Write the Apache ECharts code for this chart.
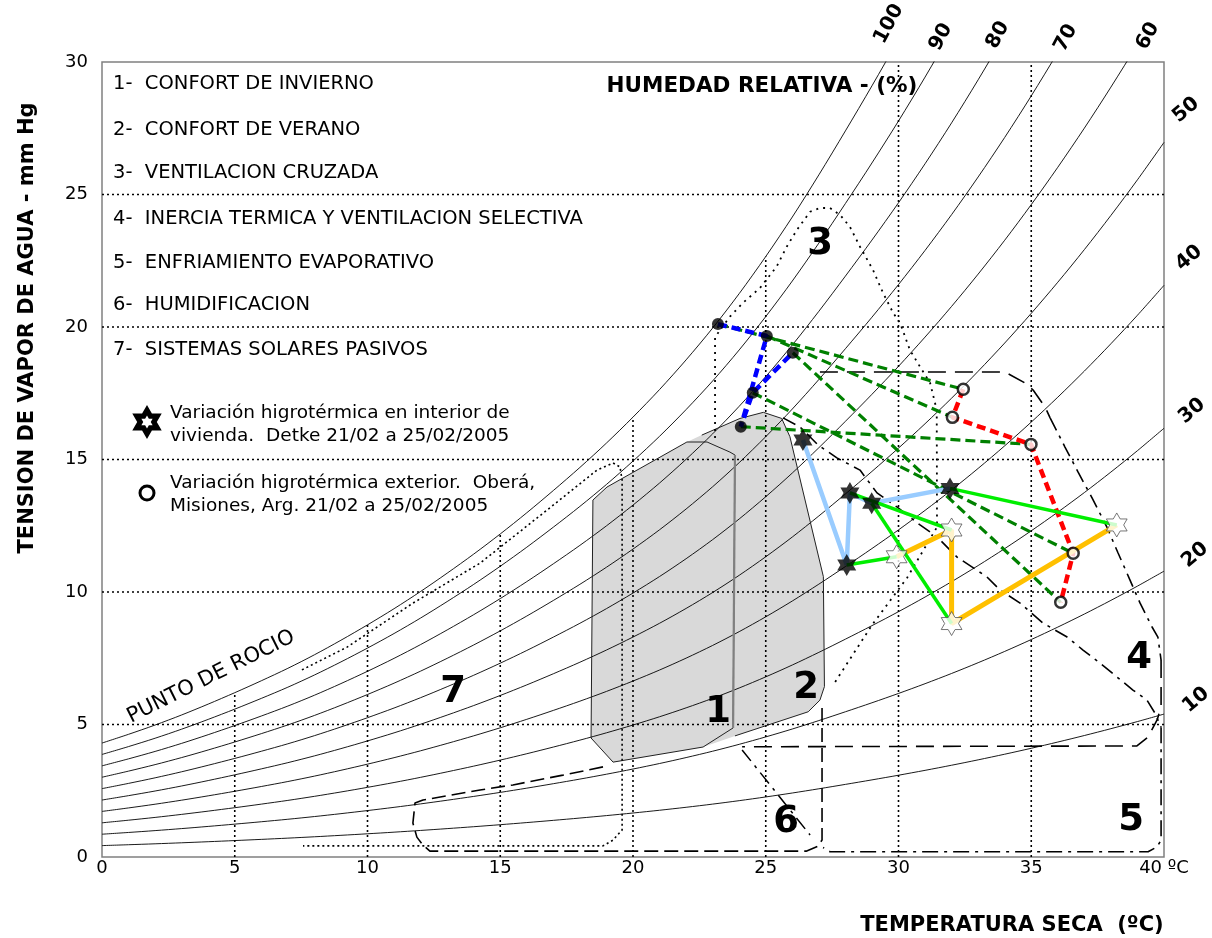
<!DOCTYPE html>
<html>
<head>
<meta charset="utf-8">
<title>Diagrama bioclimático de Givoni</title>
<script src="https://cdn.jsdelivr.net/npm/echarts@6/dist/echarts.min.js"></script>
<style>
  html, body { margin: 0; padding: 0; background: #ffffff; }
  #chart { width: 1212px; height: 938px; }
</style>
</head>
<body>
<div id="chart"></div>
<script>
// ---- Saturation curve (100 % RH), vapour pressure in mm Hg for every ºC from 0 to 40 ----
const TEMP_STEPS = [0, 1, 2, 3, 4, 5, 6, 7, 8, 9, 10, 11, 12, 13, 14, 15, 16, 17, 18, 19, 20,
  21, 22, 23, 24, 25, 26, 27, 28, 29, 30, 31, 32, 33, 34, 35, 36, 37, 38, 39, 40];
const SATURATION = [4.30, 4.63, 4.98, 5.36, 5.77, 6.20, 6.65, 7.12, 7.63, 8.18, 8.76,
  9.37, 10.02, 10.71, 11.43, 12.19, 12.99, 13.83, 14.70, 15.62, 16.60,
  17.64, 18.76, 19.96, 21.26, 22.66, 24.15, 25.74, 27.40, 29.10, 30.86,
  32.70, 34.63, 36.66, 38.79, 41.03, 43.38, 45.84, 48.42, 51.11, 53.93];
const RH_LEVELS = [100, 90, 80, 70, 60, 50, 40, 30, 20, 10];

// ---- Dotted reference grid ----
const GRID_T = [5, 10, 15, 20, 25, 30, 35];
const GRID_V = [5, 10, 15, 20, 25];

// ---- Zones of the bioclimatic chart [T ºC, mm Hg] ----
const ZONE_1 = [[18.42,4.49],[19.25,3.58],[22.64,4.15],[23.77,4.87],[23.84,15.17],[23.65,15.28],
  [22.79,15.66],[22.03,15.66],[19.02,13.96],[18.49,13.47],[18.42,4.49]];
const ZONE_1_EDGE = [[23.77,4.87],[23.84,15.17]];
const ZONE_2 = [[22.59,15.92],[24.03,16.55],[24.91,16.78],[25.60,16.55],[25.91,15.86],[27.17,10.58],
  [27.21,6.43],[27.04,5.92],[26.60,5.48],[23.84,4.57]];
const COMFORT_AREA = [[18.42,4.49],[19.25,3.58],[22.64,4.15],[23.84,4.57],[26.60,5.48],[27.04,5.92],
  [27.21,6.43],[27.17,10.58],[25.91,15.86],[25.60,16.55],[24.91,16.78],[24.03,16.55],[22.59,15.92],
  [22.03,15.66],[19.02,13.96],[18.49,13.47]];
const ZONE_3 = [[23.09,15.81],[23.09,19.62],[23.65,20.39],[24.14,20.91],[24.78,21.47],[25.41,22.28],
  [25.79,23.03],[26.17,23.66],[26.67,24.35],[27.04,24.49],[27.42,24.49],[27.80,24.23],[28.17,23.78],
  [28.55,23.03],[29.04,22.15],[29.42,21.28],[29.80,20.53],[30.06,20.15],[30.43,19.13],[30.81,18.50],
  [31.19,17.89],[31.44,16.87],[31.45,12.45],[30.32,10.53],[29.00,8.75],[27.61,6.60]];
const ZONE_4_TOP = [[27.04,18.30],[33.82,18.30],[34.09,18.26],[34.76,17.89],[35.07,17.62],[35.52,16.98],[35.71,16.57]];
const ZONE_4_SIDE = [[35.71,16.57],[36.27,15.47],[36.76,14.53],[37.29,13.55],[37.85,12.45],[38.27,11.47],
  [38.72,10.45],[39.10,9.58],[39.55,8.68],[39.77,8.30],[39.89,7.43]];
const ZONE_4_BASE = [[39.89,7.43],[39.89,5.66],[39.74,5.17],[39.40,4.53],[38.98,4.19],[24.11,4.16]];
const ZONE_5_TOP = [[25.65,16.57],[26.29,16.23],[26.97,15.55],[27.68,15.06],[28.55,14.60],[29.19,13.74],
  [29.94,13.21],[30.81,12.53],[31.45,12.08],[32.20,11.32],[33.33,10.57],[33.82,10.08],[34.58,9.58],
  [35.44,8.83],[36.35,8.30],[36.95,7.81],[37.59,7.32],[38.23,6.79],[38.83,6.30],[39.36,5.92],
  [39.66,5.43],[39.89,4.90]];
const ZONE_5_EDGE = [[39.89,4.90],[39.89,0.64],[39.74,0.38],[39.40,0.20],[27.42,0.20],[27.16,0.36]];
const ZONE_6 = [[27.12,5.62],[27.12,0.64],[26.95,0.40],[26.52,0.22],[12.35,0.22],[12.09,0.45],
  [11.86,0.75],[11.71,1.28],[11.79,2.04],[12.09,2.15],[14.24,2.53],[15.48,2.72],[17.36,3.09],[18.87,3.40]];
const ZONE_6_DIAG = [[24.11,4.04],[26.67,0.83]];
const ZONE_7 = [[7.53,7.06],[9.23,7.92],[11.71,9.58],[14.24,11.09],[16.76,13.09],[18.64,14.60],
  [19.25,14.87],[19.51,14.72],[19.59,14.23],[19.59,1.02],[19.25,0.64],[18.87,0.42],[7.57,0.42]];

// ---- Measured conditions, Detke dwelling (interior) and Oberá (exterior) ----
// star series: interior with its simultaneous exterior reading
const STAR_IN_T  = [26.40, 28.05, 28.17, 28.99, 31.94];
const STAR_IN_V  = [15.74, 11.02, 13.74, 13.35, 13.91];
const STAR_OUT_T = [null, 29.93, 32.00, 32.00, 38.22];
const STAR_OUT_V = [null, 11.33, 12.34,  8.81, 12.53];
// dot series: interior with its simultaneous exterior reading
const DOT_IN_T  = [23.20, 25.04, 24.06, 24.51, 26.02];
const DOT_IN_V  = [20.11, 19.66, 16.24, 17.52, 19.03];
const DOT_OUT_T = [32.44, 32.03, 34.99, 36.58, 36.11];
const DOT_OUT_V = [17.65, 16.59, 15.57, 11.46,  9.61];

const FONT = '"DejaVu Sans", Verdana, sans-serif';
const STAR_PATH = 'path://M50,0L64.43,25L93.3,25L78.87,50L93.3,75L64.43,75L50,100L35.57,75L6.7,75L21.13,50L6.7,25L35.57,25Z';

const zip = (xs, ys) => xs.map((x, i) => (x == null ? null : [x, ys[i]])).filter(p => p);

function path(name, pts, color, width, type, z, extra) {
  return Object.assign({
    name, type: 'line', data: pts, symbol: 'none', showSymbol: false, silent: true,
    animation: false, z: z, lineStyle: { color, width, type }
  }, extra || {});
}

const series = [];

// shaded comfort area (zones 1 and 2)
series.push({
  type: 'custom', name: 'confort', data: COMFORT_AREA, silent: true, animation: false, z: 1,
  renderItem: (params, api) => params.dataIndex !== 0 ? null : {
    type: 'polygon',
    shape: { points: COMFORT_AREA.map(p => api.coord(p)) },
    style: { fill: '#d9d9d9', stroke: null }
  }
});

// relative humidity curves
RH_LEVELS.forEach(rh => {
  series.push(path('HR ' + rh, TEMP_STEPS.map((t, i) => [t, SATURATION[i] * rh / 100]),
    '#000', 0.9, 'solid', 2, { smooth: 0.3 }));
});

// dotted grid: vertical lines stop at the saturation curve
GRID_T.forEach(t => {
  const top = Math.min(SATURATION[TEMP_STEPS.indexOf(t)], 30);
  series.push(path('grid t' + t, [[t, 0], [t, top]], '#000', 1.6, [2, 3], 2));
});
GRID_V.forEach(v => {
  series.push(path('grid v' + v, [[0, v], [40, v]], '#000', 1.6, [2, 3], 2));
});

// zone outlines
series.push(path('zona 1', ZONE_1, '#222', 1, 'solid', 3));
series.push(path('zona 1 borde', ZONE_1_EDGE, '#808080', 2.2, 'solid', 3));
series.push(path('zona 2', ZONE_2, '#222', 1, 'solid', 3));
series.push(path('zona 3', ZONE_3, '#000', 1.8, [2, 5], 3));
series.push(path('zona 4a', ZONE_4_TOP, '#000', 1.6, [18, 9], 3));
series.push(path('zona 4b', ZONE_4_SIDE, '#000', 1.6, [14, 6, 3, 6], 3));
series.push(path('zona 4c', ZONE_4_BASE, '#000', 1.6, [18, 9], 3));
series.push(path('zona 5a', ZONE_5_TOP, '#000', 1.6, [14, 6, 3, 6], 3));
series.push(path('zona 5b', ZONE_5_EDGE, '#000', 1.6, [16, 6, 3, 6], 3));
series.push(path('zona 6', ZONE_6, '#000', 1.6, [14, 6], 3));
series.push(path('zona 6d', ZONE_6_DIAG, '#000', 1.5, [14, 6, 3, 6], 3));
series.push(path('zona 7', ZONE_7, '#000', 1.6, [2, 3], 3));

// dot series: links between simultaneous interior / exterior readings
const dotIn = zip(DOT_IN_T, DOT_IN_V);
const dotOut = zip(DOT_OUT_T, DOT_OUT_V);
dotIn.forEach((p, i) => series.push(path('enlace ' + i, [p, dotOut[i]], '#008000', 3.2, [10, 5], 4)));
series.push(path('interior (puntos)', dotIn, '#0000ff', 4.5, [9, 5], 5));
series.push(path('exterior (círculos)', dotOut, '#ff0000', 4.5, [9, 5], 5));

// star series
const starIn = zip(STAR_IN_T, STAR_IN_V);
series.push(path('interior (estrellas)', starIn, '#99ccff', 4.5, 'solid', 5));
const starOutPairs = STAR_OUT_T.map((t, i) => (t == null ? null : { a: [STAR_IN_T[i], STAR_IN_V[i]], b: [t, STAR_OUT_V[i]] })).filter(p => p);
series.push(path('exterior (estrellas)', starOutPairs.map(p => p.b), '#ffc000', 5, 'solid', 5));
starOutPairs.forEach((p, i) => series.push(path('par ' + i, [p.a, p.b], '#00ee00', 3.5, 'solid', 6)));

// markers
series.push({ type: 'scatter', name: 'Detke', data: starIn, symbol: STAR_PATH, symbolKeepAspect: true,
  symbolSize: 22, itemStyle: { color: '#000' }, z: 8, silent: true, animation: false });
series.push({ type: 'scatter', name: 'Oberá', data: starOutPairs.map(p => p.b), symbol: STAR_PATH, symbolKeepAspect: true,
  symbolSize: 24, itemStyle: { color: '#fff', borderColor: '#555', borderWidth: 1 }, z: 8, silent: true, animation: false });
series.push({ type: 'scatter', name: 'interior', data: dotIn, symbol: 'circle', symbolSize: 12,
  itemStyle: { color: '#000' }, z: 8, silent: true, animation: false });
series.push({ type: 'scatter', name: 'exterior', data: dotOut, symbol: 'circle', symbolSize: 11,
  itemStyle: { color: '#fff', borderColor: '#000', borderWidth: 2.5 }, z: 8, silent: true, animation: false });

// ---- texts and legend drawn with the graphic component ----
function txt(text, x, y, font, opts) {
  const o = opts || {};
  return {
    type: 'text', x: x, y: y, rotation: o.rot || 0, z: 20, silent: true,
    style: { text: text, font: font, fill: '#000', align: o.align || 'left', verticalAlign: 'middle',
      textAlign: o.align || 'left', textVerticalAlign: 'middle' }
  };
}
function hexagram(cx, cy, r) {
  const pts = [];
  for (let k = 0; k < 12; k++) {
    const a = (-90 + 30 * k) * Math.PI / 180;
    const rr = k % 2 === 0 ? r : r / Math.sqrt(3);
    pts.push([cx + rr * Math.cos(a), cy + rr * Math.sin(a)]);
  }
  return pts;
}

const LEGEND_ITEMS = [
  '1-  CONFORT DE INVIERNO',
  '2-  CONFORT DE VERANO',
  '3-  VENTILACION CRUZADA',
  '4-  INERCIA TERMICA Y VENTILACION SELECTIVA',
  '5-  ENFRIAMIENTO EVAPORATIVO',
  '6-  HUMIDIFICACION',
  '7-  SISTEMAS SOLARES PASIVOS'
];
const LEGEND_Y = [84, 130, 173, 219, 263, 305, 350];
const F_LEG = '19.5px ' + FONT;
const F_NOTE = '18.5px ' + FONT;
const F_NUM = 'bold 37px ' + FONT;
const F_RH = 'bold 20px ' + FONT;

const graphics = [];
LEGEND_ITEMS.forEach((t, i) => graphics.push(txt(t, 113, LEGEND_Y[i], F_LEG)));
graphics.push(txt('Variación higrotérmica en interior de', 170, 413, F_NOTE));
graphics.push(txt('vivienda.  Detke 21/02 a 25/02/2005', 170, 436, F_NOTE));
graphics.push(txt('Variación higrotérmica exterior.  Oberá,', 170, 483, F_NOTE));
graphics.push(txt('Misiones, Arg. 21/02 a 25/02/2005', 170, 506, F_NOTE));
graphics.push({ type: 'polygon', z: 20, silent: true, shape: { points: hexagram(147, 422, 17) }, style: { fill: '#000' } });
graphics.push({ type: 'polygon', z: 21, silent: true, shape: { points: hexagram(147, 422, 6.5) }, style: { fill: '#fff' } });
graphics.push({ type: 'circle', z: 20, silent: true, shape: { cx: 147, cy: 493, r: 7 }, style: { fill: '#fff', stroke: '#000', lineWidth: 3 } });

graphics.push(txt('HUMEDAD RELATIVA - (%)', 762, 86, 'bold 21.5px ' + FONT, { align: 'center' }));
graphics.push(txt('PUNTO DE ROCIO', 211, 677, '21px ' + FONT, { align: 'center', rot: 26.5 * Math.PI / 180 }));

[['1', 718, 712], ['2', 806, 688], ['3', 820, 244], ['4', 1139, 658],
 ['5', 1131, 820], ['6', 786, 822], ['7', 453, 692]].forEach(d => graphics.push(txt(d[0], d[1], d[2], F_NUM, { align: 'center' })));

[['100', 889, 24], ['90', 941, 37], ['80', 998, 35], ['70', 1066, 38], ['60', 1148, 36]]
  .forEach(d => graphics.push(txt(d[0], d[1], d[2], F_RH, { align: 'center', rot: 62 * Math.PI / 180 })));
[['50', 1186, 110], ['40', 1189, 258], ['30', 1192, 411], ['20', 1195, 555], ['10', 1196, 700]]
  .forEach(d => graphics.push(txt(d[0], d[1], d[2], F_RH, { align: 'center', rot: 40 * Math.PI / 180 })));

graphics.push(txt('TENSION DE VAPOR DE AGUA - mm Hg', 28, 328, 'bold 21px ' + FONT, { align: 'center', rot: Math.PI / 2 }));
graphics.push(txt('TEMPERATURA SECA  (ºC)', 1012, 926, 'bold 21px ' + FONT, { align: 'center' }));

const chart = echarts.init(document.getElementById('chart'), null, { renderer: 'canvas' });
chart.setOption({
  animation: false,
  backgroundColor: '#ffffff',
  grid: { left: 102, right: 48, top: 62, bottom: 81, show: true, borderColor: '#808080', borderWidth: 1.5, backgroundColor: 'transparent' },
  xAxis: {
    type: 'value', min: 0, max: 40, interval: 5,
    axisLine: { show: false }, axisTick: { show: false }, splitLine: { show: false },
    axisLabel: { color: '#000', fontSize: 18, fontFamily: FONT, margin: 2,
      formatter: v => (v === 40 ? '40 ºC' : String(v)) }
  },
  yAxis: {
    type: 'value', min: 0, max: 30, interval: 5,
    axisLine: { show: false }, axisTick: { show: false }, splitLine: { show: false },
    axisLabel: { color: '#000', fontSize: 18, fontFamily: FONT, margin: 14 }
  },
  series: series,
  graphic: graphics
});
</script>
</body>
</html>
